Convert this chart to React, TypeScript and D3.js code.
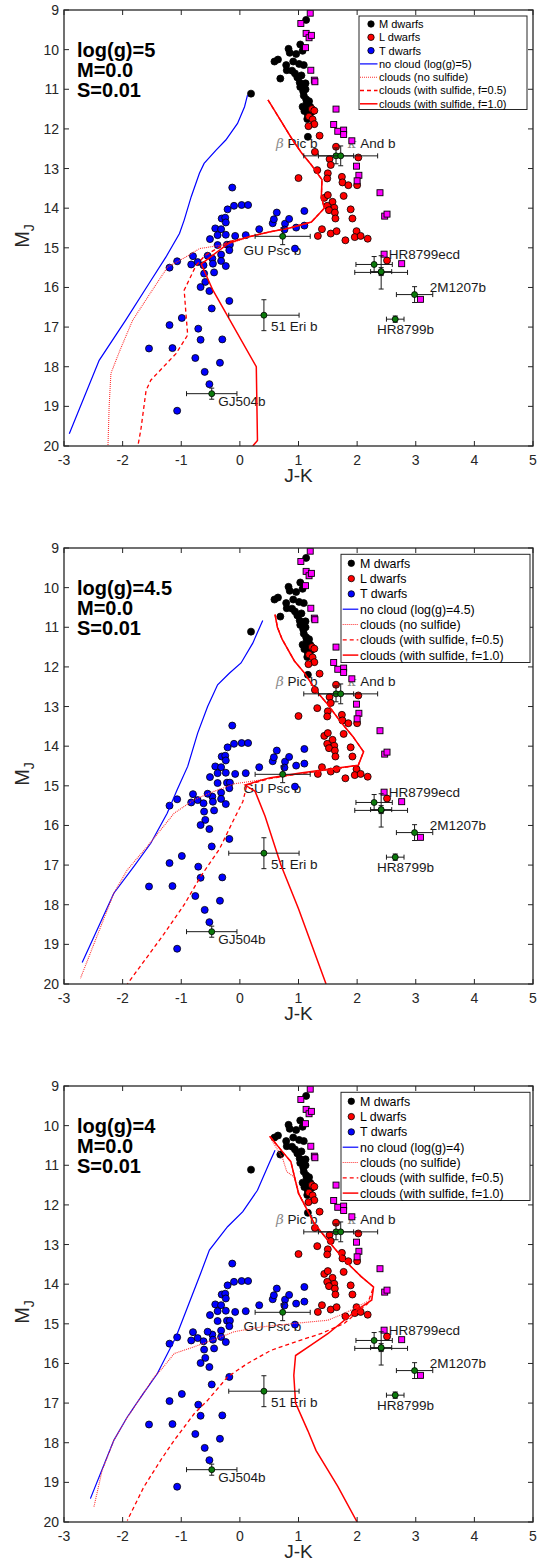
import React from 'react';
import * as d3 from 'd3';

type P = [number, number];

// ---------- observational data (J-K, M_J) ----------
const mDwarfs: P[] = [
  [1.13, 9.25], [1.03, 9.87], [0.83, 9.98], [0.85, 10.08], [0.96, 10.11], [1.07, 10.03], [0.65, 10.25],
  [0.59, 10.3], [0.91, 10.3], [0.79, 10.39], [1.01, 10.36], [1.09, 10.39], [0.8, 10.52], [0.89, 10.53],
  [0.94, 10.6], [0.69, 10.73], [0.98, 10.7], [1.02, 10.83], [1.03, 10.94], [1.12, 11.0], [0.19, 11.11],
  [1.09, 11.16], [1.13, 11.25], [1.14, 11.33], [1.07, 11.44], [1.14, 11.46], [1.2, 11.44], [1.1, 11.55],
  [1.16, 11.65], [1.16, 12.2], [1.05, 10.65], [1.12, 10.85], [1.08, 11.05], [1.18, 11.3], [1.22, 11.58],
  [1.15, 11.75],
];

const lDwarfs: P[] = [
  [1.23, 11.5], [1.27, 11.54], [1.18, 11.69], [1.24, 11.76], [1.27, 11.88], [1.17, 11.93], [1.36, 12.17],
  [1.28, 12.58], [1.64, 12.45], [1.53, 12.76], [1.55, 12.91], [2.02, 12.72], [1.32, 13.04], [1.5, 13.12],
  [1.49, 13.25], [1.74, 13.21], [1.75, 13.35], [1.0, 13.24], [1.85, 13.42], [2.0, 13.42], [1.77, 13.69],
  [1.44, 13.74], [1.5, 13.67], [1.58, 13.84], [1.49, 13.94], [1.61, 13.99], [1.52, 14.05], [1.62, 14.11],
  [1.63, 14.26], [1.89, 14.03], [1.92, 14.26], [1.4, 14.53], [1.33, 14.7], [1.55, 14.64], [1.65, 14.58],
  [1.99, 14.58], [1.96, 14.73], [2.06, 14.7], [2.18, 14.77], [1.8, 14.81], [2.51, 15.32],
];

const tDwarfs: P[] = [
  [-0.13, 13.48], [-0.21, 14.03], [-0.1, 13.94], [0.03, 13.92], [0.14, 13.92], [-0.31, 14.26], [-0.25, 14.24],
  [-0.24, 14.36], [-0.42, 14.51], [-0.32, 14.53], [-0.38, 14.68], [-0.24, 14.67], [-0.51, 14.78], [-0.38, 14.93],
  [-0.22, 14.92], [-0.17, 14.92], [-0.18, 15.06], [-0.32, 15.17], [-0.47, 15.27], [-0.55, 15.2], [-0.8, 15.21],
  [-0.72, 15.36], [-0.83, 15.42], [-0.62, 15.44], [-0.46, 15.4], [-0.32, 15.33], [-0.24, 15.46], [-1.07, 15.34],
  [-1.2, 15.5], [-0.61, 15.65], [-0.44, 15.62], [-0.59, 15.86], [-0.67, 15.99], [-0.52, 16.09], [-0.18, 16.34],
  [-0.48, 16.53], [-0.99, 16.77], [-1.2, 16.95], [-0.71, 17.04], [-0.67, 17.32], [-1.55, 17.54], [-1.15, 17.53],
  [-0.3, 17.31], [-0.76, 17.78], [-0.34, 17.9], [-0.6, 18.13], [-0.52, 18.44], [-1.07, 19.11],
  [0.63, 14.11], [1.1, 14.07], [0.56, 14.38], [0.58, 14.28], [0.77, 14.39], [0.84, 14.27], [0.76, 14.54],
  [0.96, 14.49], [1.1, 14.44], [0.33, 14.53], [0.1, 14.68], [-0.08, 14.7], [0.94, 15.02],
];

const youngObjects: P[] = [
  [1.2, 9.08], [1.04, 9.34], [1.13, 9.59], [1.18, 9.7], [1.22, 9.64], [1.12, 9.95], [1.21, 10.52], [1.27, 10.77],
  [1.28, 10.81], [1.64, 11.5], [1.6, 11.89], [1.67, 12.06], [1.77, 12.03], [1.77, 12.14], [1.91, 12.3],
  [1.99, 12.94], [2.03, 13.17], [2.0, 13.31], [2.39, 13.61], [2.47, 14.2], [2.51, 14.15], [2.46, 15.16],
  [2.76, 15.4], [3.08, 16.3],
];

// planets with error bars
const planetJK = [1.64, 1.72, 0.73, 0.41, -0.48, 2.29, 2.41, 2.41, 2.98, 2.65];
const planetMJ = [12.68, 12.68, 14.71, 16.7, 18.68, 15.42, 15.62, 15.6, 16.18, 16.8];
const planetXErr = [0.3, 0.63, 0.47, 0.6, 0.43, 0.31, 0.45, 0.18, 0.31, 0.15];
const planetYErr = [0.2, 0.25, 0.21, 0.39, 0.14, 0.2, 0.42, 0.1, 0.2, 0.08];

const labelTexts = ['β Pic b', 'κ And b', 'GU Psc b', '51 Eri b', 'GJ504b', 'HR8799ecd', '2M1207b', 'HR8799b'];
const labelJK = [0.615, 1.84, 0.06, 0.53, -0.37, 2.54, 3.24, 2.34];
const labelMJ = [12.49, 12.48, 15.17, 17.11, 19.0, 15.27, 16.11, 17.17];

// ---------- model tracks ----------
const g5NoCloud: P[] = [[0.13, 11.15], [0.08, 11.44], [-0.04, 11.86], [-0.24, 12.28], [-0.41, 12.54], [-0.61, 12.87],
  [-0.69, 13.12], [-0.83, 13.71], [-0.95, 14.3], [-1.03, 14.64], [-1.26, 15.23], [-1.55, 15.9], [-1.95, 16.83],
  [-2.4, 17.84], [-2.91, 19.69]];
const g5Top: P[] = [[0.48, 11.27], [0.7, 11.8], [0.9, 12.28], [1.05, 12.6], [1.22, 12.91], [1.4, 13.28], [1.39, 13.71],
  [1.44, 14.0], [1.22, 14.35], [0.85, 14.5], [0.5, 14.6], [0.16, 14.72]];
const g5Dotted: P[] = [...g5Top, [-0.18, 14.9], [-0.69, 15.02], [-0.92, 15.23], [-1.23, 15.48], [-1.53, 16.15],
  [-1.83, 16.83], [-2.05, 17.6], [-2.2, 18.17], [-2.23, 19.0], [-2.25, 20.0]];
const g5Dashed: P[] = [...g5Top, [-0.2, 14.85], [-0.6, 15.2], [-0.75, 15.45], [-0.95, 16.07], [-0.92, 16.66],
  [-0.89, 17.2], [-1.09, 17.67], [-1.52, 18.34], [-1.6, 18.6], [-1.69, 19.6], [-1.74, 20.0]];
const g5Solid: P[] = [...g5Top, [-0.18, 14.87], [-0.66, 15.41], [-0.46, 16.07], [0.28, 18.0], [0.3, 19.86], [0.22, 20.0]];

const g45NoCloud: P[] = [[0.39, 10.83], [0.22, 11.4], [0.02, 11.9], [-0.18, 12.16], [-0.38, 12.45], [-0.55, 13.0],
  [-0.72, 13.67], [-0.89, 14.51], [-1.07, 15.1], [-1.24, 15.69], [-1.52, 16.45], [-1.81, 17.04], [-2.15, 17.71],
  [-2.69, 19.46]];
const g45Top: P[] = [[0.6, 10.68], [0.64, 11.0], [0.72, 11.3], [0.93, 11.85], [1.1, 12.15], [1.3, 12.6], [1.5, 12.95],
  [1.7, 13.35], [1.93, 13.76], [2.11, 14.14], [2.02, 14.48]];
const g45Dotted: P[] = [...g45Top, [1.5, 14.6], [0.93, 14.72], [0.36, 14.85], [-0.1, 14.95], [-0.44, 15.14],
  [-0.78, 15.35], [-1.12, 15.69], [-1.35, 16.11], [-1.58, 16.53], [-1.92, 17.12], [-2.15, 17.71], [-2.72, 19.86]];
const g45Dashed: P[] = [...g45Top, [1.5, 14.6], [1.0, 14.7], [0.5, 14.82], [0.12, 14.98], [0.05, 15.4],
  [-0.12, 15.9], [-0.35, 16.6], [-0.67, 17.29], [-0.95, 18.0], [-1.3, 18.75], [-1.92, 20.0]];
const g45Solid: P[] = [...g45Top, [1.5, 14.58], [1.0, 14.68], [0.5, 14.8], [0.09, 14.98], [0.26, 15.14],
  [0.43, 15.77], [0.7, 17.0], [1.0, 18.1], [1.47, 20.0]];

const g4NoCloud: P[] = [[0.6, 10.62], [0.5, 10.95], [0.3, 11.63], [0.05, 12.17], [-0.21, 12.55], [-0.52, 13.14],
  [-0.67, 13.73], [-0.89, 14.57], [-1.09, 15.33], [-1.41, 16.26], [-1.69, 16.85], [-1.92, 17.35], [-2.15, 17.94],
  [-2.55, 19.41]];
const g4Top: P[] = [[0.51, 10.27], [0.75, 10.7], [0.87, 10.91], [1.0, 11.71], [1.27, 12.47], [1.5, 12.89],
  [1.78, 13.39], [2.07, 13.81], [2.28, 14.07]];
const g4Dotted: P[] = [[0.51, 10.27], [0.73, 10.83], [0.8, 11.16], [0.92, 11.29], [0.98, 11.54], [1.01, 11.71],
  [1.27, 12.47], [1.5, 12.89], [1.78, 13.39], [2.07, 13.81], [2.28, 14.07], [2.24, 14.39], [1.78, 14.74],
  [1.5, 14.91], [0.93, 14.99], [0.36, 15.08], [-0.1, 15.2], [-0.32, 15.33], [-0.78, 15.58], [-1.12, 15.75],
  [-1.35, 16.17], [-1.44, 16.3], [-1.69, 16.85], [-1.95, 17.43], [-2.15, 17.94], [-2.35, 18.7], [-2.49, 19.62]];
const g4Dashed: P[] = [...g4Top, [2.18, 14.49], [1.95, 14.78], [1.78, 14.99], [1.38, 15.25], [1.04, 15.41],
  [0.53, 15.67], [0.13, 16.0], [-0.21, 16.34], [-0.55, 16.93], [-0.78, 17.27], [-1.12, 17.94], [-1.35, 18.44],
  [-1.64, 19.12], [-1.92, 19.96]];
const g4Solid: P[] = [...g4Top, [2.25, 14.4], [2.0, 14.65], [1.5, 15.25], [1.2, 15.55], [0.95, 15.8], [0.92, 16.3],
  [0.95, 17.0], [1.16, 17.7], [1.3, 18.2], [1.67, 19.1], [2.0, 20.0]];

const gravityLabels = ['log(g)=5', 'log(g)=4.5', 'log(g)=4'];
const noCloudLabels = ['no cloud (log(g)=5)', 'no cloud (log(g)=4.5)', 'no cloud (log(g)=4)'];
const legendLabels = ['M dwarfs', 'L dwarfs', 'T dwarfs', '', 'clouds (no sulfide)', 'clouds (with sulfide, f=0.5)',
  'clouds (with sulfide, f=1.0)'];
const xTicks = [-3, -2, -1, 0, 1, 2, 3, 4, 5];
const yTicks = [9, 10, 11, 12, 13, 14, 15, 16, 17, 18, 19, 20];

const panelModels = [
  { noCloud: g5NoCloud, dotted: g5Dotted, dashed: g5Dashed, solid: g5Solid },
  { noCloud: g45NoCloud, dotted: g45Dotted, dashed: g45Dashed, solid: g45Solid },
  { noCloud: g4NoCloud, dotted: g4Dotted, dashed: g4Dashed, solid: g4Solid },
];

// ---------- layout ----------
const W = 540, H = 1564;
const X0 = 64, X1 = 533, PH = 436;
const panelTops = [10, 548, 1086];
const FONT = '"Liberation Sans", Arial, Helvetica, sans-serif';
const AX = '#262626';

const x = d3.scaleLinear().domain([-3, 5]).range([X0, X1]);

function Panel({ idx }: { idx: number }) {
  const top = panelTops[idx];
  const y = d3.scaleLinear().domain([9, 20]).range([top, top + PH]);
  const line = d3.line<P>().x((d) => x(d[0])).y((d) => y(d[1]));
  const m = panelModels[idx];
  const clipId = `clip${idx}`;
  const r = 3.5;
  const sq = 6;

  const small = idx === 0;
  const leg = small
    ? { l: 359, r: 527, t: top + 6, b: top + 99.5, row0: top + 14, dy: 13.3, fs: 11, mx: 371, lx0: 360, lx1: 377.5, tx: 379 }
    : { l: 341, r: 530, t: top + 6.3, b: top + 114.5, row0: top + 15.3, dy: 15.3, fs: 12.4, mx: 351.3, lx0: 342.7, lx1: 358.3, tx: 360 };

  const legendLines = [
    { color: '#0000ff', dash: undefined as string | undefined, w: 1.2 },
    { color: '#ff3030', dash: '1,1', w: 1.1 },
    { color: '#ff0000', dash: '4,3', w: 1.3 },
    { color: '#ff0000', dash: undefined, w: 1.5 },
  ];

  return (
    <g>
      <defs>
        <clipPath id={clipId}>
          <rect x={X0} y={top} width={X1 - X0} height={PH} />
        </clipPath>
      </defs>
      <rect x={X0} y={top} width={X1 - X0} height={PH} fill="#fff" />

      {/* labels */}
      <g fontFamily={FONT} fontSize={13.5} fill="#1a1a1a">
        {labelTexts.map((t, i) => {
          const greek = t.startsWith('β') || t.startsWith('κ');
          return (
            <text key={t} x={x(labelJK[i])} y={y(labelMJ[i])}>
              {greek ? (
                <>
                  <tspan fill="#8a8a8a" fontStyle="italic" fontFamily='"DejaVu Serif", serif'>{t[0]}</tspan>
                  <tspan>{t.slice(1)}</tspan>
                </>
              ) : t}
            </text>
          );
        })}
      </g>

      {/* points */}
      <g clipPath={`url(#${clipId})`}>
        {mDwarfs.map((d, i) => (
          <circle key={`m${i}`} cx={x(d[0])} cy={y(d[1])} r={r} fill="#000" stroke="#000" strokeWidth={0.8} />
        ))}
        {lDwarfs.map((d, i) => (
          <circle key={`l${i}`} cx={x(d[0])} cy={y(d[1])} r={r} fill="#ff0000" stroke="#000" strokeWidth={0.8} />
        ))}
        {tDwarfs.map((d, i) => (
          <circle key={`t${i}`} cx={x(d[0])} cy={y(d[1])} r={r} fill="#0000ff" stroke="#000" strokeWidth={0.8} />
        ))}
        {youngObjects.map((d, i) => (
          <rect key={`y${i}`} x={x(d[0]) - sq / 2} y={y(d[1]) - sq / 2} width={sq} height={sq}
            fill="#ff00ff" stroke="#000" strokeWidth={0.9} />
        ))}

        {/* model tracks */}
        <path d={line(m.noCloud) || ''} fill="none" stroke="#0000ff" strokeWidth={1.2} />
        <path d={line(m.dashed) || ''} fill="none" stroke="#ff0000" strokeWidth={1.3} strokeDasharray="4,3" />
        <path d={line(m.dotted) || ''} fill="none" stroke="#ff3030" strokeWidth={1.1} strokeDasharray="1,1" />
        <path d={line(m.solid) || ''} fill="none" stroke="#ff0000" strokeWidth={1.5} />

        {/* planets */}
        {planetJK.map((jk, i) => {
          const cx = x(jk), cy = y(planetMJ[i]);
          const xl = x(jk - planetXErr[i]), xr = x(jk + planetXErr[i]);
          const yt = y(planetMJ[i] - planetYErr[i]), yb = y(planetMJ[i] + planetYErr[i]);
          return (
            <g key={`p${i}`} stroke="#1a1a1a" strokeWidth={1}>
              <line x1={xl} x2={xr} y1={cy} y2={cy} />
              <line x1={xl} x2={xl} y1={cy - 2.5} y2={cy + 2.5} />
              <line x1={xr} x2={xr} y1={cy - 2.5} y2={cy + 2.5} />
              <line x1={cx} x2={cx} y1={yt} y2={yb} />
              <line x1={cx - 2.5} x2={cx + 2.5} y1={yt} y2={yt} />
              <line x1={cx - 2.5} x2={cx + 2.5} y1={yb} y2={yb} />
              <circle cx={cx} cy={cy} r={3} fill="#0b7a0b" stroke="#000" strokeWidth={0.8} />
            </g>
          );
        })}
      </g>

      {/* axes box and ticks */}
      <rect x={X0} y={top} width={X1 - X0} height={PH} fill="none" stroke={AX} strokeWidth={1.3} />
      <g stroke={AX} strokeWidth={1}>
        {xTicks.map((t) => (
          <g key={`xt${t}`}>
            <line x1={x(t)} x2={x(t)} y1={top + PH} y2={top + PH - 5} />
            <line x1={x(t)} x2={x(t)} y1={top} y2={top + 5} />
          </g>
        ))}
        {yTicks.map((t) => (
          <g key={`yt${t}`}>
            <line x1={X0} x2={X0 + 5} y1={y(t)} y2={y(t)} />
            <line x1={X1} x2={X1 - 5} y1={y(t)} y2={y(t)} />
          </g>
        ))}
      </g>
      <g fontFamily={FONT} fontSize={14} fill={AX}>
        {xTicks.map((t) => (
          <text key={`xl${t}`} x={x(t)} y={top + PH + 19} textAnchor="middle">{String(t)}</text>
        ))}
        {yTicks.map((t) => (
          <text key={`yl${t}`} x={X0 - 5} y={y(t) + 5} textAnchor="end">{String(t)}</text>
        ))}
      </g>
      <text x={(X0 + X1) / 2} y={top + PH + 36} textAnchor="middle" fontFamily={FONT} fontSize={19} fill={AX}>J-K</text>
      <text transform={`translate(29,${top + PH / 2 + 8}) rotate(-90)`} textAnchor="middle" fontFamily={FONT}
        fontSize={20} fill={AX}>
        M<tspan fontSize={14} dy={5}>J</tspan>
      </text>

      {/* parameter text */}
      <g fontFamily={FONT} fontSize={20} fontWeight="bold" fill="#000">
        <text x={77} y={top + 46.7}>{gravityLabels[idx]}</text>
        <text x={77} y={top + 67.3}>M=0.0</text>
        <text x={77} y={top + 86.5}>S=0.01</text>
      </g>

      {/* legend */}
      <rect x={leg.l} y={leg.t} width={leg.r - leg.l} height={leg.b - leg.t} fill="#fff" stroke={AX} strokeWidth={1} />
      <g fontFamily={FONT} fontSize={leg.fs} fill="#000">
        {['#000000', '#ff0000', '#0000ff'].map((c, i) => (
          <g key={`lm${i}`}>
            <circle cx={leg.mx} cy={leg.row0 + i * leg.dy} r={3.2} fill={c} stroke="#000" strokeWidth={0.8} />
            <text x={leg.tx} y={leg.row0 + i * leg.dy + leg.fs * 0.36}>{legendLabels[i]}</text>
          </g>
        ))}
        {legendLines.map((s, j) => {
          const i = j + 3;
          const yy = leg.row0 + i * leg.dy;
          return (
            <g key={`ll${j}`}>
              <line x1={leg.lx0} x2={leg.lx1} y1={yy} y2={yy} stroke={s.color} strokeWidth={s.w}
                strokeDasharray={s.dash} />
              <text x={leg.tx} y={yy + leg.fs * 0.36}>{j === 0 ? noCloudLabels[idx] : legendLabels[i]}</text>
            </g>
          );
        })}
      </g>
    </g>
  );
}

export default function App() {
  return (
    <svg width={W} height={H} viewBox={`0 0 ${W} ${H}`}
      style={{ position: 'absolute', left: 0, top: 0, background: '#fff' }}>
      <rect x={0} y={0} width={W} height={H} fill="#fff" />
      {[0, 1, 2].map((i) => <Panel key={i} idx={i} />)}
    </svg>
  );
}
